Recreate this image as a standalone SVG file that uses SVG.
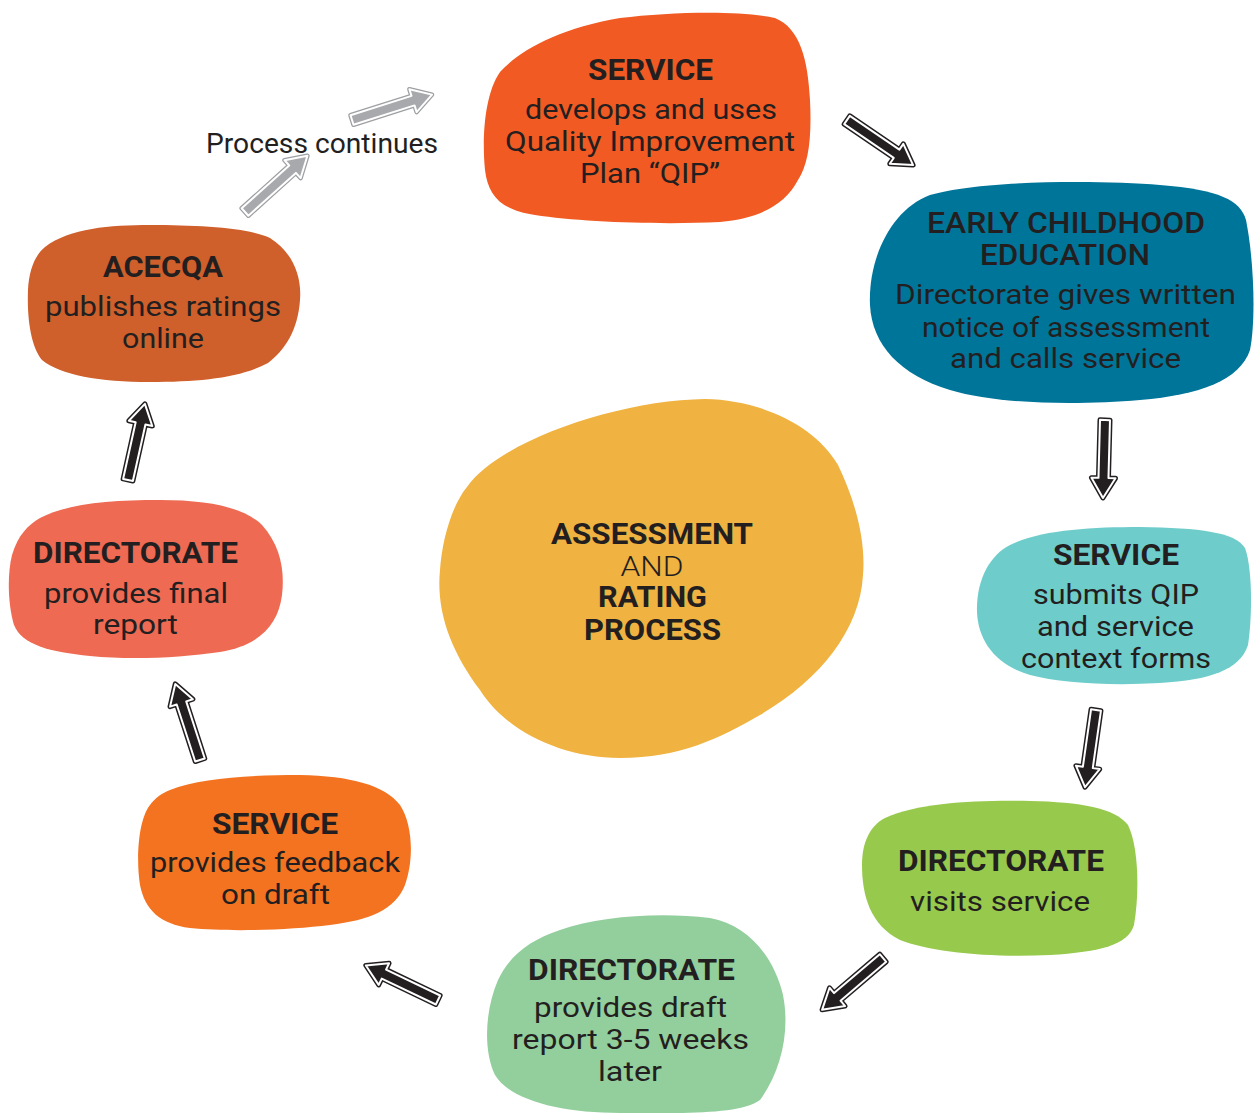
<svg xmlns="http://www.w3.org/2000/svg" width="1254" height="1113" viewBox="0 0 1254 1113">
<style>
text{font-family:Roboto,"Liberation Sans",sans-serif;fill:#231f20;text-anchor:middle}
.t{font-size:30px;font-weight:700}
.tc{font-size:29px;font-weight:700}
.tm{font-size:30px;font-weight:500}
.b{font-size:28px;font-weight:400}
.ao{fill:none;stroke:#231f20;stroke-width:5;stroke-linejoin:round}
.ai{fill:#231f20;stroke:#fff;stroke-width:2;stroke-linejoin:round}
.go{fill:none;stroke:#9d9fa2;stroke-width:4.5;stroke-linejoin:round}
.gi{fill:#a7a9ac;stroke:#fff;stroke-width:2;stroke-linejoin:round}
</style>
<rect width="1254" height="1113" fill="#fff"/>

<g id="center">
<path fill="#f0b240" d="M705,399 C760,400 815,425 838,465 C855,500 866,540 863,575 C860,630 820,680 760,715 C720,738 680,758 620,758 C560,758 505,730 480,690 C450,650 436,610 440,570 C442,540 452,505 467,487 C500,440 620,400 705,399 Z"/>
<text class="tc" x="652" y="544" textLength="202" lengthAdjust="spacingAndGlyphs">ASSESSMENT</text>
<text x="652" y="576" textLength="63" lengthAdjust="spacingAndGlyphs" style="font-size:28px;font-weight:300">AND</text>
<text class="tc" x="652.5" y="607" textLength="109" lengthAdjust="spacingAndGlyphs">RATING</text>
<text class="tc" x="652.5" y="640" textLength="137" lengthAdjust="spacingAndGlyphs">PROCESS</text>
</g>

<g id="service-qip">
<path fill="#f15a22" d="M500,72 C520,50 560,28 620,18 C670,12 740,10 775,18 C800,28 808,60 810,100 C812,140 808,165 798,180 C785,205 760,218 720,222 C660,225 580,222 535,215 C500,210 488,195 485,170 C482,140 484,95 500,72 Z"/>
<text class="t" x="650.5" y="80" textLength="125" lengthAdjust="spacingAndGlyphs">SERVICE</text>
<text class="b" x="651" y="119" textLength="252" lengthAdjust="spacingAndGlyphs">develops and uses</text>
<text class="b" x="650" y="151" textLength="290" lengthAdjust="spacingAndGlyphs">Quality Improvement</text>
<text class="b" x="650" y="183" textLength="140" lengthAdjust="spacingAndGlyphs">Plan “QIP”</text>
</g>

<g id="ece-directorate">
<path fill="#00759a" d="M930,195 C980,180 1100,180 1160,185 C1220,190 1240,200 1246,220 C1254,260 1256,320 1250,350 C1240,380 1200,395 1140,400 C1080,405 1000,405 950,390 C900,375 872,345 870,305 C868,260 890,210 930,195 Z"/>
<text class="tm" x="1066" y="233" textLength="278" lengthAdjust="spacingAndGlyphs">EARLY CHILDHOOD</text>
<text class="tm" x="1065" y="265" textLength="170" lengthAdjust="spacingAndGlyphs">EDUCATION</text>
<text class="b" x="1065.5" y="304" textLength="341" lengthAdjust="spacingAndGlyphs">Directorate gives written</text>
<text class="b" x="1066" y="337" textLength="288" lengthAdjust="spacingAndGlyphs">notice of assessment</text>
<text class="b" x="1065.5" y="368" textLength="231" lengthAdjust="spacingAndGlyphs">and calls service</text>
</g>

<g id="service-submits">
<path fill="#6ecdcb" d="M1010,545 C1040,530 1090,527 1140,527 C1200,528 1235,532 1245,548 C1253,570 1252,620 1248,645 C1240,670 1210,680 1160,683 C1110,686 1060,683 1030,675 C995,665 978,640 977,612 C976,580 990,555 1010,545 Z"/>
<text class="t" x="1116" y="565" textLength="126" lengthAdjust="spacingAndGlyphs">SERVICE</text>
<text class="b" x="1116" y="604" textLength="166" lengthAdjust="spacingAndGlyphs">submits QIP</text>
<text class="b" x="1115.5" y="636" textLength="157" lengthAdjust="spacingAndGlyphs">and service</text>
<text class="b" x="1116" y="668" textLength="190" lengthAdjust="spacingAndGlyphs">context forms</text>
</g>

<g id="directorate-visits">
<path fill="#97c94c" d="M885,818 C920,802 980,800 1030,801 C1080,802 1115,808 1128,825 C1138,845 1140,890 1134,925 C1128,945 1100,952 1050,955 C990,958 930,952 900,940 C870,925 862,895 862,865 C862,842 870,826 885,818 Z"/>
<text class="t" x="1001" y="871" textLength="206" lengthAdjust="spacingAndGlyphs">DIRECTORATE</text>
<text class="b" x="1000" y="911" textLength="180" lengthAdjust="spacingAndGlyphs">visits service</text>
</g>

<g id="directorate-draft">
<path fill="#93cf9d" d="M560,930 C600,916 660,912 710,918 C750,925 775,960 783,995 C790,1030 782,1070 760,1100 C740,1115 680,1113 620,1113 C560,1113 510,1100 495,1075 C483,1050 485,1010 498,980 C510,955 530,940 560,930 Z"/>
<text class="t" x="631.5" y="980" textLength="207" lengthAdjust="spacingAndGlyphs">DIRECTORATE</text>
<text class="b" x="630.5" y="1017" textLength="193" lengthAdjust="spacingAndGlyphs">provides draft</text>
<text class="b" x="630.5" y="1049" textLength="237" lengthAdjust="spacingAndGlyphs">report 3-5 weeks</text>
<text class="b" x="630" y="1081" textLength="64" lengthAdjust="spacingAndGlyphs">later</text>
</g>

<g id="service-feedback">
<path fill="#f37321" d="M170,790 C200,778 250,775 300,775 C350,776 385,785 400,805 C413,825 414,860 405,885 C395,910 370,920 330,925 C290,930 230,932 190,928 C160,924 145,910 140,885 C136,860 138,820 150,805 C155,798 162,793 170,790 Z"/>
<text class="t" x="275" y="834" textLength="126" lengthAdjust="spacingAndGlyphs">SERVICE</text>
<text class="b" x="275" y="872" textLength="250" lengthAdjust="spacingAndGlyphs">provides feedback</text>
<text class="b" x="275.5" y="904" textLength="109" lengthAdjust="spacingAndGlyphs">on draft</text>
</g>

<g id="directorate-final">
<path fill="#ef6a53" d="M40,518 C70,503 110,500 160,500 C210,500 245,508 262,525 C280,545 285,570 282,595 C278,625 260,645 220,652 C180,658 130,660 90,656 C50,652 22,645 14,625 C8,605 7,575 12,555 C18,535 28,525 40,518 Z"/>
<text class="t" x="135.5" y="563" textLength="205" lengthAdjust="spacingAndGlyphs">DIRECTORATE</text>
<text class="b" x="136" y="603" textLength="184" lengthAdjust="spacingAndGlyphs">provides final</text>
<text class="b" x="135.5" y="634" textLength="85" lengthAdjust="spacingAndGlyphs">report</text>
</g>

<g id="acecqa">
<path fill="#cf5f2b" d="M45,247 C70,228 110,225 150,225 C200,225 250,228 270,238 C292,252 302,275 300,300 C298,330 285,350 268,363 C240,378 200,382 150,382 C100,382 60,375 42,360 C30,345 27,315 28,290 C29,270 35,255 45,247 Z"/>
<text class="t" x="163" y="277" textLength="120" lengthAdjust="spacingAndGlyphs">ACECQA</text>
<text class="b" x="163" y="316" textLength="236" lengthAdjust="spacingAndGlyphs">publishes ratings</text>
<text class="b" x="163" y="348" textLength="82" lengthAdjust="spacingAndGlyphs">online</text>
</g>

<g id="connectors">
<defs>
<path id="a80" d="M0,-5 L60,-5 L60,-12 L80,0 L60,12 L60,5 L0,5 Z"/>
<path id="a78" d="M0,-5 L58,-5 L58,-12 L78,0 L58,12 L58,5 L0,5 Z"/>
<path id="g84" d="M0,-5 L64,-5 L64,-12 L84,0 L64,12 L64,5 L0,5 Z"/>
</defs>
<g transform="translate(847,120) rotate(34.3)"><use href="#a80" class="ao"/><use href="#a80" class="ai"/></g>
<g transform="translate(1105,420) rotate(91.5)"><use href="#a78" class="ao"/><use href="#a78" class="ai"/></g>
<g transform="translate(1096,710) rotate(98.1)"><use href="#a78" class="ao"/><use href="#a78" class="ai"/></g>
<g transform="translate(883,958) rotate(139.6)"><use href="#a80" class="ao"/><use href="#a80" class="ai"/></g>
<g transform="translate(438,1000) rotate(205.6)"><use href="#a80" class="ao"/><use href="#a80" class="ai"/></g>
<g transform="translate(200,760) rotate(252)"><use href="#a80" class="ao"/><use href="#a80" class="ai"/></g>
<g transform="translate(128,480) rotate(-77.5)"><use href="#a78" class="ao"/><use href="#a78" class="ai"/></g>
<g transform="translate(245,212) rotate(-42)"><use href="#g84" class="go"/><use href="#g84" class="gi"/></g>
<g transform="translate(352,120) rotate(-17.6)"><use href="#g84" class="go"/><use href="#g84" class="gi"/></g>
<text x="322" y="153" style="font-size:28px;font-weight:400" textLength="232" lengthAdjust="spacingAndGlyphs">Process continues</text>
</g>
</svg>
